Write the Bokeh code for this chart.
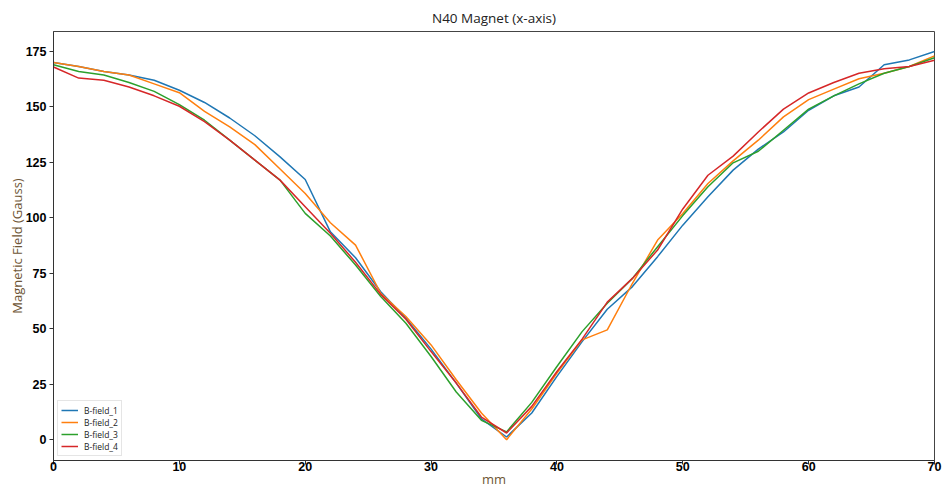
from bokeh.plotting import figure
from bokeh.models import Range1d, FixedTicker, Legend, LegendItem
from bokeh.embed import file_html
from bokeh.resources import INLINE

mm = [0, 2, 4, 6, 8, 10, 12, 14, 16, 18, 20, 22, 24, 26, 28, 30, 32, 34, 36,
      38, 40, 42, 44, 46, 48, 50, 52, 54, 56, 58, 60, 62, 64, 66, 68, 70]

b_field_1 = [170, 168.2, 166, 164.4, 162, 157.5, 152, 145, 137, 127.5, 117.3, 93.7, 82, 66.7, 54.7, 40.8, 25.5, 9.4, 1.2,
             12, 28.5, 44.2, 58.8, 69, 82.5, 96.7, 109.5, 121.5, 131, 138.7, 148.5, 155, 159, 169, 171.2, 175]
b_field_2 = [170, 168.2, 166, 164.4, 160.4, 156.4, 148, 141, 133, 122, 111, 97.8, 87.7, 66, 55.5, 42.7, 27, 12, 0,
             13.8, 30, 45, 49.5, 70.5, 90, 102, 115.5, 125.7, 135, 145.5, 153.3, 158, 162.7, 165.2, 168.2, 173]
b_field_3 = [169, 166, 164.4, 161, 157, 151, 144, 135, 126, 117, 102, 91.8, 78.7, 64.5, 52.5, 37.5, 21.5, 8.7, 3.5,
             16.8, 33, 48.7, 61.5, 72.7, 87, 101, 114, 124.8, 130, 139.5, 149, 155, 160.4, 165.2, 168.2, 172.2]
b_field_4 = [168, 163, 162, 159, 155, 150.3, 143.4, 135, 126, 117, 105, 93, 80, 65.5, 54.3, 39.7, 25.5, 10.2, 3,
             15, 30.7, 45.3, 62, 72.7, 85.5, 104, 119.2, 127.8, 138.7, 149, 156.3, 161, 165.2, 167.2, 168.2, 171]

series = [("B-field_1", b_field_1, "#1f77b4"),
          ("B-field_2", b_field_2, "#ff7f0e"),
          ("B-field_3", b_field_3, "#2ca02c"),
          ("B-field_4", b_field_4, "#d62728")]

x_ticks = [0, 10, 20, 30, 40, 50, 60, 70]
y_ticks = [0, 25, 50, 75, 100, 125, 150, 175]

p = figure(width=945, height=490, output_backend="svg", toolbar_location=None,
           x_range=Range1d(0, 70), y_range=Range1d(-9.4, 184),
           title="N40 Magnet (x-axis)",
           min_border_left=53, min_border_right=11, min_border_top=31, min_border_bottom=29)

p.title.align = "center"
p.title.text_font = "Open Sans"
p.title.text_font_size = "13.5px"
p.title.text_font_style = "normal"
p.title.text_color = "#222222"
p.title.standoff = 9

items = []
for name, vals, col in series:
    r = p.line(mm, vals, line_color=col, line_width=1.5)
    items.append(LegendItem(label=name, renderers=[r]))

legend = Legend(items=items, location="bottom_left")
legend.label_text_font = "Open Sans"
legend.label_text_font_size = "8.5px"
legend.label_text_color = "#222222"
legend.glyph_width = 17
legend.glyph_height = 12
legend.label_height = 12
legend.spacing = 0
legend.padding = 3
legend.margin = 4
legend.label_standoff = 6
legend.border_line_color = "#cccccc"
legend.border_line_width = 1
legend.background_fill_alpha = 0.8
p.add_layout(legend)

p.xgrid.visible = False
p.ygrid.visible = False
p.outline_line_color = "#444444"
p.outline_line_width = 1

p.xaxis.ticker = FixedTicker(ticks=x_ticks)
p.yaxis.ticker = FixedTicker(ticks=y_ticks)
for ax in (p.xaxis, p.yaxis):
    ax.axis_line_color = "#333333"
    ax.major_tick_line_color = "#333333"
    ax.major_tick_out = 4
    ax.major_tick_in = 0
    ax.minor_tick_line_color = None
    ax.major_label_text_font = "Liberation Sans"
    ax.major_label_text_font_size = "12.5px"
    ax.major_label_text_font_style = "bold"
    ax.major_label_text_color = "#000000"
    ax.axis_label_text_font = "Open Sans"
    ax.axis_label_text_font_size = "13px"
    ax.axis_label_text_font_style = "normal"
    ax.axis_label_text_color = "#6e5535"

p.xaxis.axis_label = "mm"
p.yaxis.axis_label = "Magnetic Field (Gauss)"
p.xaxis.major_label_standoff = -3
p.yaxis.major_label_standoff = 3
p.xaxis.axis_label_standoff = -4
p.yaxis.axis_label_standoff = -3

open("out.html", "w").write(file_html(p, INLINE))
